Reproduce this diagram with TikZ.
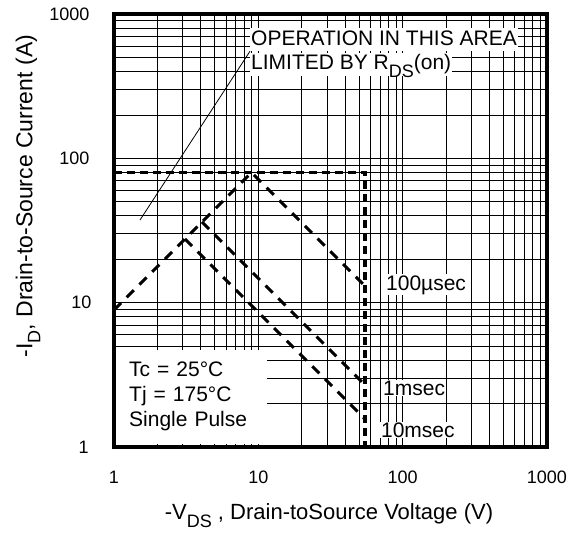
\documentclass[tikz,border=0pt]{standalone}
\usepackage{fontspec}
\setmainfont{Liberation Sans}
\newcommand{\lowsub}[1]{\raisebox{-0.35em}{\fontsize{18}{18}\selectfont #1}}
\begin{document}
\begin{tikzpicture}[x=144.3pt,y=144.3pt,
  minor/.style={line width=0.9pt},
  major/.style={line width=1.5pt},
  soa/.style={line width=3pt, dash pattern=on 10pt off 8pt},
  limit/.style={line width=3.5pt, dash pattern=on 8pt off 5pt},
  label/.style={font=\fontsize{21}{25}\selectfont},
  tick/.style={font=\fontsize{18}{20}\selectfont},
  box/.style={label, fill=white, inner sep=1pt}]
\useasboundingbox (-0.790,-0.596) rectangle (3.271,3.098);
% log grid, 3 decades each way
\foreach \d in {0,1,2}{
  \foreach \k in {2,...,9}{
    \draw[minor] ({\d+log10(\k)},0) -- ({\d+log10(\k)},3);
    \draw[minor] (0,{\d+log10(\k)}) -- (3,{\d+log10(\k)});
  }
}
\draw[major] (1,0) -- (1,3) (2,0) -- (2,3) (0,1) -- (3,1) (0,2) -- (3,2);
% texts on white
\node[box, text height=16pt, text depth=5pt, anchor=base west] (oper) at (0.9425,2.786) {OPERATION IN THIS AREA};
\node[box, text height=16pt, text depth=5pt, anchor=base west] (rdson) at (0.9425,2.613) {LIMITED BY R\lowsub{DS}(on)};
\coordinate (ptr) at (0.18,1.573);
\draw[line width=0.8pt] (oper.south west) -- (ptr);
\node[label, fill=white, anchor=south west, align=left, text width=123pt, inner xsep=15pt, inner ysep=12.5pt] (cond) at (0,0.021) {Tc = 25°C\\Tj = 175°C\\Single Pulse};
\node[box, anchor=west] (t100) at (1.878,1.123) {100µsec};
\node[box, anchor=west] (t1) at (1.857,0.409) {1msec};
\node[box, anchor=west] (t10) at (1.843,0.118) {10msec};
% safe operating area
\coordinate (rds0) at (0,0.95);
\coordinate (peak) at (0.953,1.903);
\coordinate (ms1) at (0.61,1.56);
\coordinate (ms10) at (0.492,1.442);
\coordinate (hleft) at (0,1.903);
\coordinate (corner) at (1.740,1.903);
\coordinate (vbot) at (1.740,0);
\coordinate (end100) at (1.740,1.116);
\coordinate (end1) at (1.740,0.43);
\coordinate (end10) at (1.740,0.194);
\draw[limit] (hleft) -- (corner) -- (vbot);
\draw[soa] (rds0) -- (peak) -- (end100);
\draw[soa] (ms1) -- (end1);
\draw[soa] (ms10) -- (end10);
\draw[line width=3.5pt] (0,0) rectangle (3,3);
% axis numbers
\node[tick, anchor=east] (y1000) at (-0.146,3) {1000};
\node[tick, anchor=east] (y100) at (-0.146,2) {100};
\node[tick, anchor=east] (y10) at (-0.132,1) {10};
\node[tick, anchor=east] (y1) at (-0.152,0) {1};
\node[tick] (x1) at (0,-0.208) {1};
\node[tick] (x10) at (1,-0.208) {10};
\node[tick] (x100) at (2,-0.208) {100};
\node[tick] (x1000) at (3,-0.208) {1000};
% axis titles
\node[label, font=\fontsize{22}{25}\selectfont, anchor=base] (xtitle) at (1.49,-0.505) {-V\lowsub{DS} , Drain-toSource Voltage (V)};
\node[label, font=\fontsize{23}{25}\selectfont, rotate=90] (ytitle) at (-0.596,1.739) {-I\lowsub{D},  Drain-to-Source Current (A)};
\end{tikzpicture}
\end{document}
